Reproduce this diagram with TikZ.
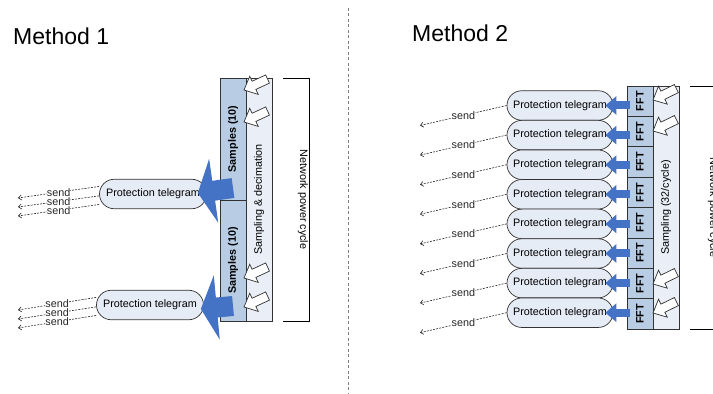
\documentclass[tikz,border=0pt]{standalone}
\usepackage{fontspec}
\setmainfont{Liberation Sans}
\usetikzlibrary{arrows.meta,calc}
\definecolor{telblue}{RGB}{68,114,196}
\definecolor{samplefill}{RGB}{184,204,228}
\definecolor{cyclefill}{RGB}{233,238,247}
\definecolor{pillfill}{RGB}{230,236,246}
\definecolor{edgegray}{RGB}{50,50,50}

\tikzset{
  lbl/.style={inner sep=0pt, font=\fontsize{10.8}{12}\selectfont},
  title/.style={inner sep=0pt, font=\fontsize{23}{27}\selectfont},
  samplebox/.style={lbl, draw=edgegray, line width=0.7pt, fill=samplefill, minimum width=26pt},
  cyclebox/.style={lbl, draw=edgegray, line width=0.7pt, fill=cyclefill, minimum width=26pt},
  pill/.style={lbl, draw=edgegray, line width=0.7pt, fill=pillfill, rounded corners=14.75pt, minimum width=107pt, minimum height=29.5pt},
  sendline/.style={black!85, line width=0.6pt, dash pattern=on 2pt off 1.2pt},
  sendlbl/.style={lbl, fill=white, inner sep=0.2pt, pos=0.5},
  bracket/.style={black, line width=0.7pt},
  divider/.style={gray, line width=0.7pt, dash pattern=on 3pt off 2.5pt},
  bigarr/.style={telblue, line width=20pt, -{Triangle[width=64pt,length=16pt]}},
  fftarr/.style={telblue, line width=8pt, -{Triangle[width=18pt,length=11pt]}},
  hollowarrow/.pic={
    \draw[edgegray, fill=white, line width=0.7pt, line join=miter]
      (0,0) -- (-11,10) -- (-11,4.5) -- (-26,4.5) -- (-26,-4.5) -- (-11,-4.5) -- (-11,-10) -- cycle;
  }
}

\begin{document}
\begin{tikzpicture}[x=1pt, y=1pt, >={Straight Barb[length=3pt,width=5pt]}]
\useasboundingbox (0,0) rectangle (713,394);

% titles and divider
\node[title, anchor=base west] (m1) at (13,349) {Method 1};
\node[title, anchor=base west] (m2) at (412,352) {Method 2};
\draw[divider] (348,386) -- (348,0);

% Method 1
\node[samplebox, minimum height=122pt] (su) at (233,255) {\rotatebox{90}{\bfseries Samples (10)}};
\node[samplebox, minimum height=121pt] (sl) at (233,133.5) {\rotatebox{90}{\bfseries Samples (10)}};
\node[cyclebox, minimum height=243pt] (sd) at (259,194.5) {\rotatebox{90}{Sampling \& decimation}};
\draw[bracket] (283,316) -- (309,316) -- (309,73) -- (283,73);
\node[lbl] (nc1) at (303,194.5) {\rotatebox{-90}{Network power cycle}};

\foreach \y in {304,272,116,87}
  \pic[rotate=205] at (244,\y) {hollowarrow};

\node[pill] (pu) at (153,200) {Protection telegram};
\node[pill] (pl) at (150,89) {Protection telegram};

\foreach \a/\y [count=\k] in {172/196,182/187,191/178} {
  \coordinate (eu\k) at (18,\y);
  \draw[sendline,->] (pu.\a) -- node[sendlbl]{send} (eu\k);
}
\foreach \a/\y [count=\k] in {172/84,182/75,191/66} {
  \coordinate (el\k) at (18,\y);
  \draw[sendline,->] (pl.\a) -- node[sendlbl]{send} (el\k);
}

\coordinate (tu) at (233,206);
\coordinate (tl) at (233,88);
\draw[bigarr] (tu) -- ([xshift=-9pt,yshift=1pt]pu.east);
\draw[bigarr] (tl) -- ([xshift=-3pt,yshift=-4pt]pl.east);

% Method 2
\node[cyclebox, minimum height=243pt] (sc) at (666,186.5) {\rotatebox{90}{Sampling (32/cycle)}};
\draw[bracket] (690,308) -- (716,308) -- (716,65) -- (690,65);
\node[lbl] (nc2) at (713,186.5) {\rotatebox{-90}{Network power cycle}};

\foreach \i in {1,...,8} {
  \node[samplebox, minimum height=30.375pt] (f\i) at (640,{308-30.375*(\i-0.5)}) {\rotatebox{90}{\bfseries FFT}};
  \node[pill, minimum width=106pt] (p\i) at (560,{288.5-29.6*(\i-1)}) {Protection telegram};
  \coordinate (e\i) at (420,{268.5-29.6*(\i-1)});
  \draw[sendline,->] (p\i.west) -- node[sendlbl]{send} (e\i);
}
\foreach \i in {1,...,8}
  \draw[fftarr] ($(f\i.west|-p\i.east)+(3,0)$) -- ($(p\i.east)+(-8,0)$);

\foreach \y in {294,263,110,81}
  \pic[rotate=206] at (653,\y) {hollowarrow};

\end{tikzpicture}
\end{document}
